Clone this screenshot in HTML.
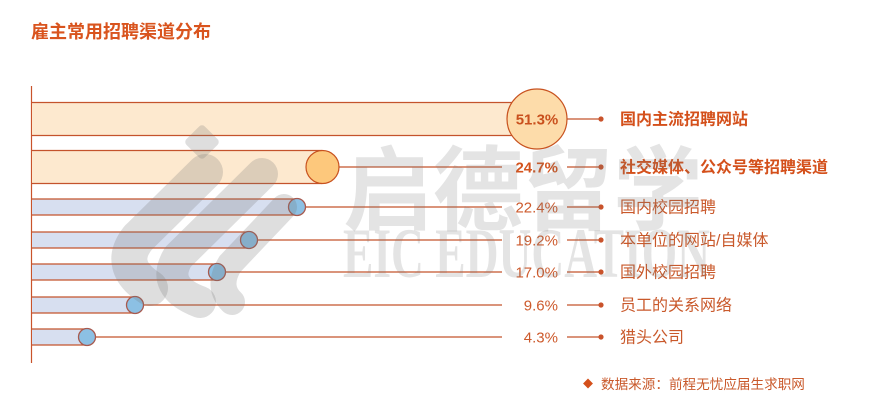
<!DOCTYPE html>
<html><head><meta charset="utf-8"><style>
html,body{margin:0;padding:0;background:#fff;}
svg{display:block;}
</style></head><body>
<svg width="872" height="405" viewBox="0 0 872 405" xmlns="http://www.w3.org/2000/svg" style="font-family:'Liberation Sans','Noto Sans CJK SC',sans-serif;">
<rect width="872" height="405" fill="#fff"/>
<text x="31" y="38" font-size="18" font-weight="bold" fill="#d9541e">雇主常用招聘渠道分布</text>

<!-- axis -->
<line x1="31.5" y1="86" x2="31.5" y2="363" stroke="#c9532b" stroke-width="1.2"/>

<g stroke="#c4532c" stroke-width="1.2">
<rect x="32" y="102.5" width="505" height="33" fill="#fde9cf" stroke="none"/>
<line x1="32" y1="102.5" x2="537" y2="102.5"/>
<line x1="32" y1="135.5" x2="537" y2="135.5"/>
<rect x="32" y="150.5" width="290" height="33" fill="#fde9cf" stroke="none"/>
<line x1="32" y1="150.5" x2="322" y2="150.5"/>
<line x1="32" y1="183.5" x2="322" y2="183.5"/>
<line x1="322" y1="167" x2="502" y2="167"/>
<rect x="32" y="199" width="265" height="16" fill="#d7dff0" stroke="none"/>
<line x1="32" y1="199" x2="297" y2="199"/><line x1="32" y1="215" x2="297" y2="215"/>
<line x1="297" y1="207" x2="502" y2="207"/>
<rect x="32" y="232" width="217" height="16" fill="#d7dff0" stroke="none"/>
<line x1="32" y1="232" x2="249" y2="232"/><line x1="32" y1="248" x2="249" y2="248"/>
<line x1="249" y1="240" x2="502" y2="240"/>
<rect x="32" y="264" width="185" height="16" fill="#d7dff0" stroke="none"/>
<line x1="32" y1="264" x2="217" y2="264"/><line x1="32" y1="280" x2="217" y2="280"/>
<line x1="217" y1="272" x2="502" y2="272"/>
<rect x="32" y="297" width="103" height="16" fill="#d7dff0" stroke="none"/>
<line x1="32" y1="297" x2="135" y2="297"/><line x1="32" y1="313" x2="135" y2="313"/>
<line x1="135" y1="305" x2="502" y2="305"/>
<rect x="32" y="329" width="55" height="16" fill="#d7dff0" stroke="none"/>
<line x1="32" y1="329" x2="87" y2="329"/><line x1="32" y1="345" x2="87" y2="345"/>
<line x1="87" y1="337" x2="502" y2="337"/>
<line x1="567" y1="119" x2="601" y2="119"/>
<line x1="567" y1="167" x2="601" y2="167"/>
<line x1="567" y1="207" x2="601" y2="207"/>
<line x1="567" y1="240" x2="601" y2="240"/>
<line x1="567" y1="272" x2="601" y2="272"/>
<line x1="567" y1="305" x2="601" y2="305"/>
<line x1="567" y1="337" x2="601" y2="337"/>
</g>
<g fill="#c9532b">
<circle cx="601" cy="119" r="2.6"/><circle cx="601" cy="167" r="2.6"/><circle cx="601" cy="207" r="2.6"/>
<circle cx="601" cy="240" r="2.6"/><circle cx="601" cy="272" r="2.6"/><circle cx="601" cy="305" r="2.6"/>
<circle cx="601" cy="337" r="2.6"/>
</g>

<circle cx="537" cy="119" r="30" fill="#fddcaa" stroke="#c8521f" stroke-width="1.2"/>
<circle cx="322.5" cy="167" r="16.5" fill="#fdc87c" stroke="#c8521f" stroke-width="1.2"/>
<g fill="#8cc0e4" stroke="#a85a4f" stroke-width="1.3">
<circle cx="297" cy="207" r="8.5"/>
<circle cx="249" cy="240" r="8.5"/>
<circle cx="217" cy="272" r="8.5"/>
<circle cx="135" cy="305" r="8.5"/>
<circle cx="87" cy="337" r="8.5"/>
</g>

<text x="537" y="124.5" font-size="15" font-weight="bold" fill="#c9501d" text-anchor="middle">51.3%</text>
<g font-size="15" text-anchor="end">
<text x="558" y="172.5" font-weight="bold" fill="#d4541e">24.7%</text>
<text x="558" y="212.5" fill="#cd5a2c">22.4%</text>
<text x="558" y="245.5" fill="#cd5a2c">19.2%</text>
<text x="558" y="277.5" fill="#cd5a2c">17.0%</text>
<text x="558" y="310.5" fill="#cd5a2c">9.6%</text>
<text x="558" y="342.5" fill="#cd5a2c">4.3%</text>
</g>

<g font-size="16">
<text x="620" y="124.5" font-weight="bold" fill="#d4501b">国内主流招聘网站</text>
<text x="620" y="172.5" font-weight="bold" fill="#d4501b">社交媒体、公众号等招聘渠道</text>
<text x="620" y="212.5" fill="#c9592b">国内校园招聘</text>
<text x="620" y="245.5" fill="#c9592b">本单位的网站/自媒体</text>
<text x="620" y="277.5" fill="#c9592b">国外校园招聘</text>
<text x="620" y="310.5" fill="#c9592b">员工的关系网络</text>
<text x="620" y="342.5" fill="#c9592b">猎头公司</text>
</g>

<rect x="584.5" y="380" width="7" height="7" fill="#d4501b" transform="rotate(45 588 383.5)"/>
<text x="601" y="389" font-size="13.6" fill="#c9592b">数据来源：前程无忧应届生求职网</text>

<!-- watermark -->
<g fill="#7a7a7a" fill-opacity="0.2">
<text x="343" y="223" font-size="92" font-weight="bold" textLength="360" lengthAdjust="spacingAndGlyphs" style="font-family:'Noto Sans CJK SC',sans-serif;">启德留学</text>
<text x="343" y="277" font-size="71" font-weight="bold" textLength="367" lengthAdjust="spacingAndGlyphs" style="font-family:'Liberation Serif',serif;">EIC EDUCATION</text>
</g>
<g fill="none" stroke="#777" stroke-opacity="0.24" stroke-linecap="round" stroke-linejoin="round">
<rect x="189" y="129" width="26" height="26" rx="4" fill="#777" fill-opacity="0.24" stroke="none" transform="rotate(45 202 142)"/>
<path d="M205 172 L138 238 Q116 266 150 288" stroke-width="36"/>
<path d="M262 174 L178 257 Q160 287 200 302" stroke-width="32"/>
<path d="M284 207 L230 264 Q216 287 232 302" stroke-width="26"/>
</g>
</svg>
</body></html>
